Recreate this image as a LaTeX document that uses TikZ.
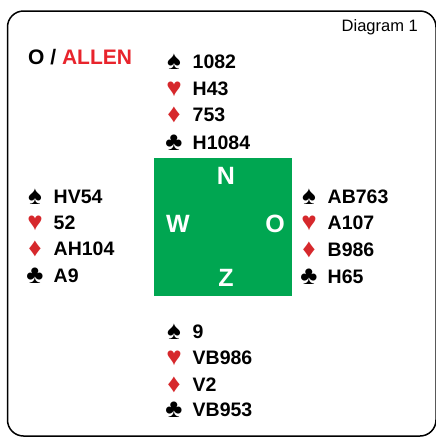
\documentclass[tikz,border=0pt]{standalone}
\usepackage{fontspec}
\setmainfont{Liberation Sans}
\definecolor{suitRed}{RGB}{214,40,44}
\definecolor{nameRed}{RGB}{232,36,44}
\definecolor{tableGreen}{RGB}{0,166,81}

\begin{document}
\begin{tikzpicture}
[x=1pt,y=-1pt,%
  frameDecorate/.style={draw,line width=1.5pt,rounded corners=16pt},%
  tableDecorate/.style={shape=rectangle,fill=tableGreen,minimum size=138pt,inner sep=0pt},%
  seatDecorate/.style={text=white,font=\bfseries\fontsize{25}{28}\selectfont,inner sep=0pt},%
  suitDecorate/.style={font=\fontsize{26}{28}\selectfont,inner sep=0pt},%
  cardDecorate/.style={anchor=west,font=\bfseries\fontsize{19.5}{22}\selectfont,inner sep=0pt}]
\useasboundingbox (0,0) rectangle (436,437);
%% frame and titles
\draw[frameDecorate] (7.5,11) rectangle (436,436);
\node (title) at (418,27) [anchor=east,inner sep=0pt,font=\fontsize{16.5}{19}\selectfont] {Diagram 1};
\node (dealer) at (28,57) [anchor=west,inner sep=0pt,font=\bfseries\fontsize{21}{24}\selectfont]
  {O / \textcolor{nameRed}{ALLEN}};
%% table and seats
\node (table) at (223,226.5) [tableDecorate] {};
\foreach \nodename/\x/\y in {
  N/226/176, W/178/224, O/275/224, Z/226/278}
{
  \node (seat\nodename) at (\x,\y) [seatDecorate] {\nodename};
}
%% hands
\foreach \nodename/\x/\y/\col/\sym/\cards in {
  n1/174/62/black/♠/1082, n2/174/89/suitRed/♥/H43,
  n3/174/115/suitRed/♦/753, n4/174/143/black/♣/H1084,
  w1/35/197/black/♠/HV54, w2/35/223/suitRed/♥/52,
  w3/35/249/suitRed/♦/AH104, w4/35/276/black/♣/A9,
  o1/309/197/black/♠/AB763, o2/309/223/suitRed/♥/A107,
  o3/309/250/suitRed/♦/B986, o4/309/277/black/♣/H65,
  z1/174/332/black/♠/9, z2/174/358/suitRed/♥/VB986,
  z3/174/385/suitRed/♦/V2, z4/174/410/black/♣/VB953}
{
  \node (\nodename s) at (\x,\y) [suitDecorate,text=\col] {\sym};
  \node (\nodename) at (\x+18.5,\y) [cardDecorate] {\cards};
}
\end{tikzpicture}
\end{document}
